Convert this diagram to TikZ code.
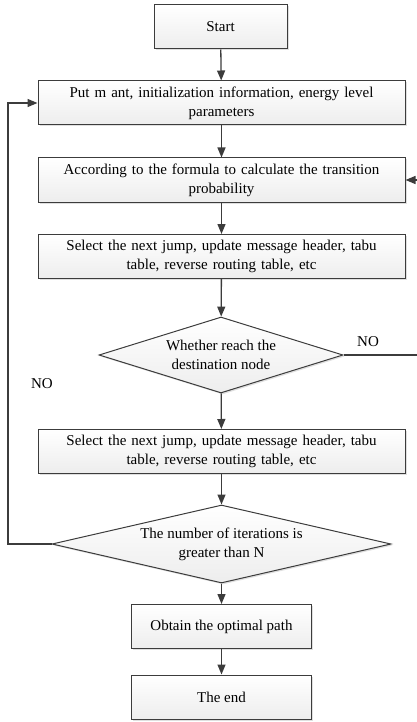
\documentclass[tikz,border=0pt]{standalone}
\usepackage{fontspec}
\setmainfont{Liberation Serif}
\usetikzlibrary{shapes.geometric,arrows.meta,shadows}
\definecolor{linec}{HTML}{3C3C3C}
\tikzset{
  box/.style={draw=linec, line width=1pt, top color=white, bottom color=gray!14,
    drop shadow={opacity=0.25, shadow xshift=1.5pt, shadow yshift=-1.5pt},
    align=center, inner sep=0pt, font=\fontsize{15}{19}\selectfont},
  widebox/.style={box, minimum width=367pt, minimum height=44pt, text width=345pt},
  smallbox/.style={box, minimum width=180pt, minimum height=44pt},
  startbox/.style={box, minimum width=133pt, minimum height=44pt},
  decision/.style={diamond, draw=linec, line width=1pt, top color=white, bottom color=gray!14,
    drop shadow={opacity=0.25, shadow xshift=1.5pt, shadow yshift=-1.5pt}, inner sep=0pt},
  dtext/.style={align=center, font=\fontsize{15}{19}\selectfont},
  conn/.style={draw=linec, line width=1.3pt, -{Triangle[length=10pt,width=8pt]}},
  lab/.style={font=\fontsize{15}{19}\selectfont}
}
\begin{document}
\begin{tikzpicture}[x=1pt,y=-1pt]
\useasboundingbox (0,0) rectangle (417,722);
\node[startbox] (s) at (220.5,27) {Start};
\node[widebox] (b2) at (221.5,103) {Put m ant, initialization information, energy level\\parameters};
\node[widebox] (b3) at (221.5,180) {According to the formula to calculate the transition\\probability};
\node[widebox] (b4) at (221.5,256.5) {Select the next jump, update message header, tabu\\table, reverse routing table, etc};
\node[decision, minimum width=244pt, minimum height=76pt] (d1) at (221,355) {};
\node[dtext] (d1t) at (d1) {Whether reach the\\destination node};
\node[widebox] (b5) at (221.5,451.5) {Select the next jump, update message header, tabu\\table, reverse routing table, etc};
\node[decision, minimum width=339pt, minimum height=78pt] (d2) at (221.5,544) {};
\node[dtext] (d2t) at (d2) {The number of iterations is\\greater than N};
\node[smallbox] (b6) at (221.5,626.5) {Obtain the optimal path};
\node[smallbox] (b7) at (221.5,697) {The end};
\node[lab] (no1) at (368,342) {NO};
\node[lab] (no2) at (42,384) {NO};
\coordinate (rt) at (430,355);
\coordinate (lt) at (8,544);
\draw[conn] (s) -- (b2);
\draw[conn] (b2) -- (b3);
\draw[conn] (b3) -- (b4);
\draw[conn] (b4) -- (d1);
\draw[conn] (d1) -- (b5);
\draw[conn] (b5) -- (d2);
\draw[conn] (d2) -- (b6);
\draw[conn] (b6) -- (b7);
\draw[conn] (d1.east) -- (rt) |- (b3.east);
\draw[conn] (d2.west) -- (lt) |- (b2.west);
\end{tikzpicture}
\end{document}
